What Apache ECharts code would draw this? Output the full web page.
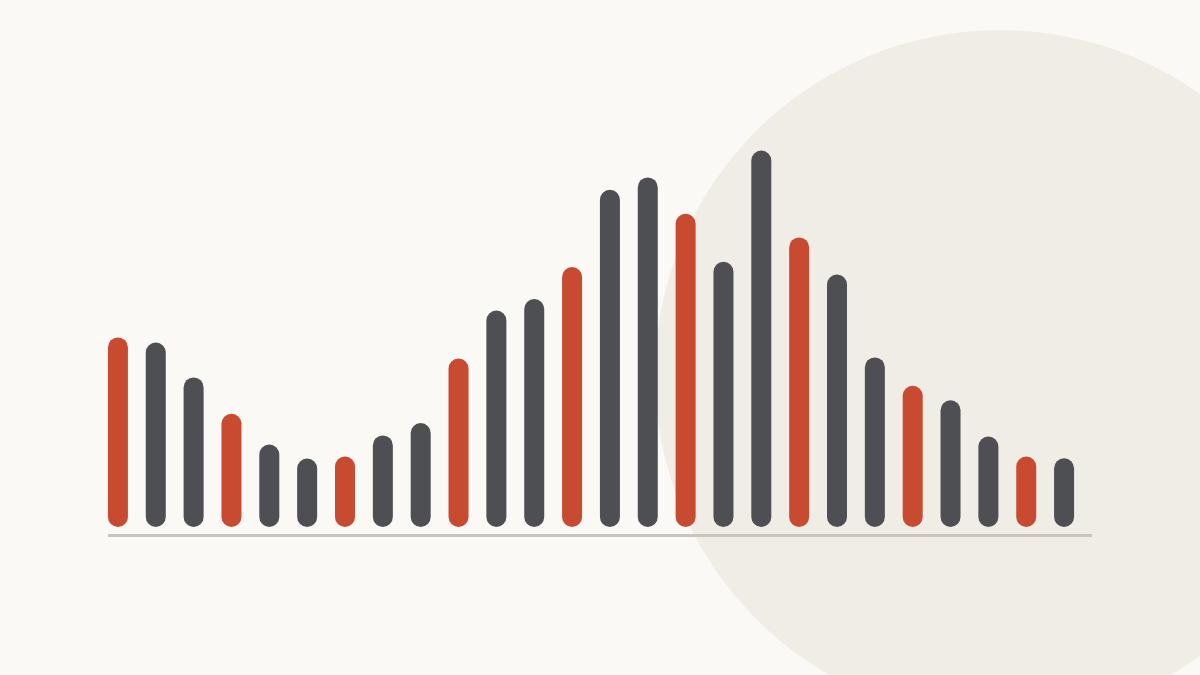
<!DOCTYPE html>
<html>
<head>
<meta charset="utf-8">
<script src="https://cdn.jsdelivr.net/npm/echarts@6/dist/echarts.min.js"></script>
<style>
html,body{margin:0;padding:0;background:#faf9f5;}
#c{width:1200px;height:675px;}
</style>
</head>
<body>
<div id="c"></div>
<script>
const categories = ['1','2','3','4','5','6','7','8','9','10','11','12','13','14','15','16','17','18','19','20','21','22','23','24','25','26'];
const values = [47.4,46.1,37.4,28.3,20.6,17.1,17.6,22.9,26,42.1,54.1,57,65,84.3,87.4,78.3,66.3,94.1,72.4,63.1,42.4,35.3,31.7,22.6,17.6,17.2];
const highlight = [1,0,0,1,0,0,1,0,0,1,0,0,1,0,0,1,0,0,1,0,0,1,0,0,1,0];

const RED = '#c84a30', GREY = '#4e4f53';
const chart = echarts.init(document.getElementById('c'));
chart.setOption({
  backgroundColor: '#faf9f5',
  animation: false,
  graphic: [
    { type: 'circle', z: 0, silent: true, shape: { cx: 1000, cy: 375, r: 345 }, style: { fill: '#f0ede6' } },
    { type: 'line', z: 1, silent: true, shape: { x1: 108, y1: 535.5, x2: 1092, y2: 535.5 }, style: { stroke: '#c8c5bf', lineWidth: 3 } }
  ],
  grid: { left: 99, right: 117, top: 127, bottom: 148 },
  xAxis: { type: 'category', data: categories, show: false },
  yAxis: { type: 'value', min: 0, max: 100, show: false },
  series: [{
    type: 'bar',
    z: 5,
    barWidth: 20,
    data: values.map((v, i) => ({ value: v, itemStyle: { color: highlight[i] ? RED : GREY } })),
    itemStyle: { borderRadius: 10 }
  }]
});
</script>
</body>
</html>
